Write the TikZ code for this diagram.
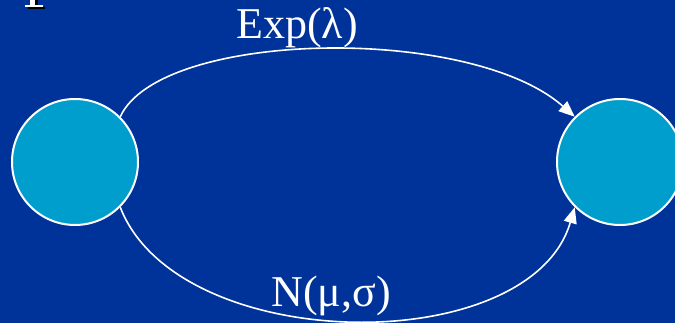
\documentclass[tikz,border=0pt]{standalone}
\usepackage{fontspec}
\setmainfont{Liberation Serif}
\usetikzlibrary{arrows.meta}
\definecolor{bgblue}{RGB}{0,51,153}
\definecolor{statecyan}{RGB}{0,158,204}
\begin{document}
\begin{tikzpicture}[x=1pt,y=-1pt,
  state/.style={circle,draw=white,line width=2pt,fill=statecyan,minimum size=126pt,inner sep=0pt},
  trans/.style={draw=white,line width=1.6pt,-{Triangle[length=16pt,width=13pt,fill=white]}},
  lbl/.style={text=white,font=\fontsize{44}{48}\selectfont,inner sep=0pt,anchor=base}]
\fill[bgblue] (0,0) rectangle (675,323);
\useasboundingbox (0,0) rectangle (675,323);
% partial glyph at top-left
\fill[black] (28,7) rectangle (45,9.5);
\fill[black] (35,0) rectangle (37.5,7);
\fill[white] (30,0) rectangle (35,5);
\fill[white] (25,5) rectangle (43,7);
\node[state] (A) at (75,162) {};
\node[state] (B) at (620,162) {};
\draw[trans] (A.north east) .. controls (160,30) and (470,24) .. (B.north west);
\draw[trans] (A.south east) .. controls (178,356) and (530,360) .. (B.south west);
\node[lbl] (top) at (297,39) {Exp(λ)};
\node[lbl] (bot) at (331,306) {N(μ,σ)};
\end{tikzpicture}
\end{document}
